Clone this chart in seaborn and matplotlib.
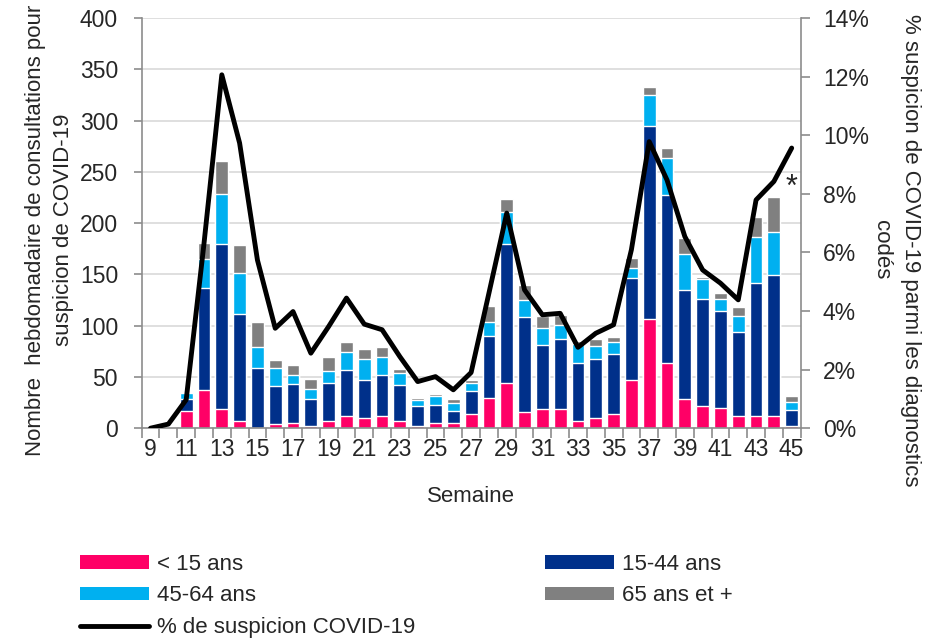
import numpy as np
import pandas as pd
import seaborn as sns
import matplotlib.pyplot as plt
from matplotlib.patches import Patch
from matplotlib.lines import Line2D

weeks = list(range(9, 46))
lt15 = [0, 0, 17, 37, 19, 7, 0, 4, 5, 2, 7, 12, 10, 12, 7, 2, 5, 5, 14, 29,
        44, 16, 19, 19, 7, 10, 14, 47, 106, 64, 28, 22, 20, 12, 12, 12, 2]
a15_44 = [0, 1, 11, 100, 161, 104, 59, 37, 38, 26, 37, 45, 37, 40, 35, 20, 18, 12, 22, 61,
          136, 92, 62, 68, 57, 57, 58, 99, 189, 163, 107, 104, 94, 82, 130, 137, 16]
a45_64 = [0, 1, 6, 28, 48, 40, 20, 18, 9, 10, 12, 17, 20, 17, 12, 5, 8, 8, 8, 14,
          31, 17, 17, 14, 18, 13, 12, 10, 30, 36, 35, 19, 12, 15, 44, 42, 8]
a65 = [0, 0, 0, 16, 33, 28, 25, 7, 10, 10, 13, 10, 10, 10, 4, 2, 2, 3, 3, 15,
       12, 15, 11, 9, 3, 7, 5, 10, 8, 10, 15, 2, 6, 9, 20, 34, 5]
pct = [0, 0.14, 0.97, 6.3, 12.06, 9.73, 5.74, 3.41, 3.98, 2.56, 3.47, 4.44, 3.55, 3.36,
       2.44, 1.59, 1.76, 1.31, 1.9, 4.61, 7.34, 4.72, 3.87, 3.92, 2.76, 3.24, 3.53,
       6.09, 9.78, 8.47, 6.54, 5.40, 4.95, 4.38, 7.79, 8.42, 9.56]

labels = ["< 15 ans", "15-44 ans", "45-64 ans", "65 ans et +"]
colors = ["#FF0066", "#00308A", "#00B0F0", "#808080"]
line_label = "% de suspicion COVID-19"

df = pd.DataFrame({"semaine": weeks, "lt15": lt15, "a15_44": a15_44,
                   "a45_64": a45_64, "a65": a65, "pct": pct})
# cumulative heights, drawn tallest first so the stacks overlap
cols = ["lt15", "a15_44", "a45_64", "a65"]
cum = df[cols].cumsum(axis=1)

sns.set_theme(style="white")
plt.rcParams["font.family"] = ["Liberation Sans Narrow", "Liberation Sans", "DejaVu Sans"]
txt = "#262626"
spine_c = "#8C8C8C"

fig, ax = plt.subplots(figsize=(9.32, 6.41), dpi=100)
fig.subplots_adjust(left=0.152, right=0.859, top=0.972, bottom=0.332)

for col, c in reversed(list(zip(cols, colors))):
    sns.barplot(x=df["semaine"], y=cum[col], native_scale=True, color=c,
                saturation=1, width=0.72, errorbar=None, ax=ax, zorder=2)

ax.set_xlim(8.5, 45.5)
ax.set_ylim(0, 400)
ax.set_yticks(range(0, 401, 50))
ax.yaxis.grid(True, color="#D9D9D9", lw=1.2, zorder=0)
ax.set_axisbelow(True)
ax.set_xticks(weeks[::2])
ax.set_xticklabels([str(w) for w in weeks[::2]])
ax.set_xticks(np.arange(8.5, 46, 1), minor=True)
ax.tick_params(axis="x", which="major", length=0, pad=7, labelsize=16.5, labelcolor=txt)
ax.tick_params(axis="x", which="minor", length=7, width=1.2, color=spine_c, direction="out", bottom=True)
ax.tick_params(axis="y", length=6, width=1.2, color=spine_c, pad=11, labelsize=16.5,
               labelcolor=txt, left=True)
for s in ["left", "bottom"]:
    ax.spines[s].set_color(spine_c)
    ax.spines[s].set_linewidth(1.2)
ax.spines["top"].set_visible(False)
ax.spines["right"].set_visible(False)

ax.set_xlabel("Semaine", fontsize=16, color=txt)
ax.xaxis.set_label_coords(0.5, -0.142)
ax.set_ylabel("Nombre  hebdomadaire de consultations pour\nsuspicion de COVID-19",
              fontsize=16, color=txt, linespacing=1.4, rotation=90,
              ha="center", va="center", rotation_mode="default")
ax.yaxis.set_label_coords(-0.140, 0.483)

ax2 = ax.twinx()
sns.lineplot(x=df["semaine"], y=df["pct"], color="black", lw=3.5, ax=ax2)
ax2.set_ylim(0, 14)
ax2.set_yticks(range(0, 15, 2))
ax2.set_yticklabels([f"{v}%" for v in range(0, 15, 2)])
ax2.tick_params(axis="y", length=6.5, width=1.2, color=spine_c, pad=9.5, labelsize=16.5,
                labelcolor=txt, right=True)
for s in ["left", "top", "bottom"]:
    ax2.spines[s].set_visible(False)
ax2.spines["right"].set_color(spine_c)
ax2.spines["right"].set_linewidth(1.2)
ax2.set_ylabel("% suspicion de COVID-19 parmi les diagnostics\ncodés",
               fontsize=16, color=txt, linespacing=1.5, rotation=270,
               ha="center", va="center", rotation_mode="default")
ax2.yaxis.set_label_coords(1.1446, 0.4345)
ax2.text(45.0, 8.2, "*", fontsize=22, color=txt, ha="center", va="center")

h_bars = [Patch(facecolor=c, edgecolor="none") for c in colors]
h_line = Line2D([0], [0], color="black", lw=3.5)
leg_kw = dict(frameon=False, fontsize=16, handlelength=3.1, handleheight=0.55,
              handletextpad=0.36, labelspacing=0.47, borderpad=0, borderaxespad=0,
              loc="upper left", labelcolor=txt)
fig.legend([h_bars[0], h_bars[2], h_line], [labels[0], labels[2], line_label],
           bbox_to_anchor=(80 / 932, 1 - 554 / 641), **leg_kw)
fig.legend([h_bars[1], h_bars[3]], [labels[1], labels[3]],
           bbox_to_anchor=(545 / 932, 1 - 554 / 641), **leg_kw)

fig.savefig("out.png", dpi=100)
